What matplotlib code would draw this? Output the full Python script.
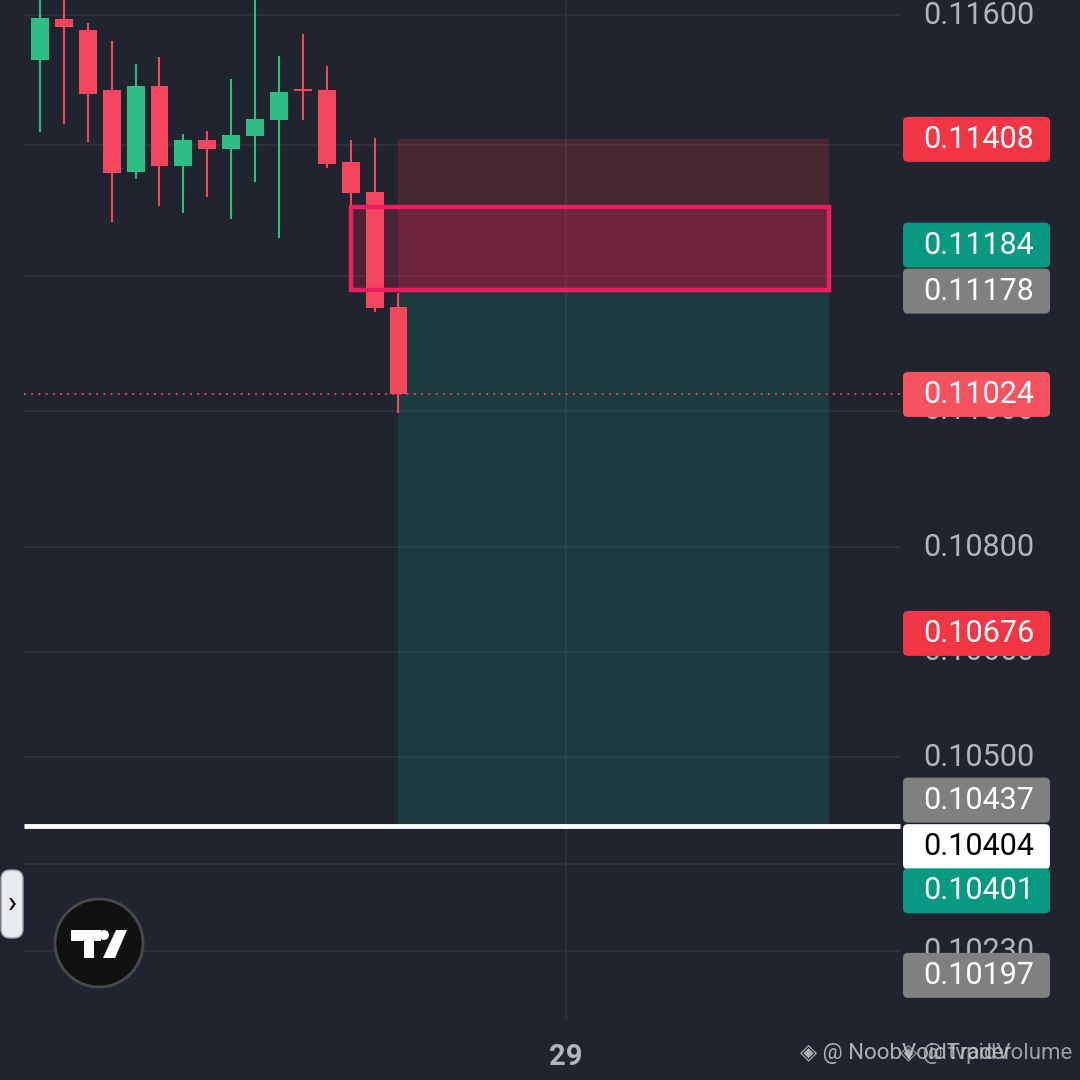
import numpy as np
import matplotlib.pyplot as plt
from matplotlib.patches import Rectangle, FancyBboxPatch, Circle, Polygon

plt.rcParams['font.family'] = ['Roboto', 'DejaVu Sans']

# ---- data (oldest candle first) ----
opens  = [0.11530, 0.11594, 0.11577, 0.11484, 0.11358, 0.11490, 0.11367, 0.11407,
          0.11393, 0.11413, 0.11437, 0.11485, 0.11484, 0.11373, 0.11328, 0.11154]
closes = [0.11595, 0.11581, 0.11478, 0.11357, 0.11490, 0.11367, 0.11407, 0.11393,
          0.11415, 0.11439, 0.11481, 0.11482, 0.11370, 0.11326, 0.11153, 0.11024]
highs  = [0.11660, 0.11660, 0.11588, 0.11560, 0.11524, 0.11535, 0.11416, 0.11421,
          0.11501, 0.11660, 0.11536, 0.11570, 0.11521, 0.11407, 0.11410, 0.11175]
lows   = [0.11419, 0.11432, 0.11404, 0.11282, 0.11347, 0.11306, 0.11296, 0.11320,
          0.11287, 0.11343, 0.11258, 0.11437, 0.11364, 0.11306, 0.11147, 0.10997]

# short position tool
entry = 0.11178
stop = 0.11408
target = 0.10401
pos_start, pos_end = 15, 33

# supply zone box
zone_top, zone_bot = 0.11305, 0.11180
zone_start, zone_end = 13, 33

last_price = 0.11024
hline_price = 0.10404

grid_prices = [0.11600, 0.11400, 0.11200, 0.11000, 0.10800, 0.10650, 0.10500, 0.10350, 0.10230]
# only the scale labels that are not hidden behind a price tag
scale_prices = [0.11600, 0.11000, 0.10800, 0.10650, 0.10500, 0.10230]
scale_labels = ['0.11600', '0.11000', '0.10800', '0.10650', '0.10500', '0.10230']

tag_prices = [0.11408, 0.11184, 0.11178, 0.11024, 0.10676, 0.10437, 0.10404, 0.10401, 0.10197]
tag_labels = ['0.11408', '0.11184', '0.11178', '0.11024', '0.10676', '0.10437', '0.10404', '0.10401', '0.10197']
tag_colors = ['#f23645', '#089981', '#808080', '#f7525f', '#f23645', '#808080', '#ffffff', '#089981', '#808080']
tag_text   = ['white', 'white', 'white', 'white', 'white', 'white', 'black', 'white', 'white']
tag_shift  = [0, -42, 0, 0, 0, -2, 21, 63, 0]   # px, tags pushed apart like TradingView does

time_tick = 22
time_label = '29'

BG = '#20242e'
GRID = '#2b2f3a'
UP = '#2ebd85'
DOWN = '#f6465d'

fig = plt.figure(figsize=(10.8, 10.8), dpi=100, facecolor=BG)
ax = fig.add_axes([0, 0, 1, 1])
ax.set_facecolor(BG)
ax.set_yscale('log')
step = 23.9
ax.set_xlim(-40 / step, 1040 / step)
ax.set_ylim(0.116 * np.exp(-(1080 - 15) / 7450), 0.116 * np.exp(15 / 7450))
ax.axis('off')

x_left, x_right = -16 / step, 860 / step

# grid
ax.hlines(grid_prices, x_left, x_right, color=GRID, lw=1.5, zorder=1)
ax.axvline(time_tick, ymin=62 / 1080, ymax=1, color=GRID, lw=1.5, zorder=1)

# position tool
ax.add_patch(Rectangle((pos_start, entry), pos_end - pos_start, stop - entry,
                       facecolor=(242/255, 54/255, 69/255, 0.2), edgecolor='none', zorder=2))
ax.add_patch(Rectangle((pos_start, target), pos_end - pos_start, entry - target,
                       facecolor=(8/255, 153/255, 129/255, 0.2), edgecolor='none', zorder=2))
ax.hlines(entry, pos_start, pos_end, color='#7a7a7a', lw=1.5, zorder=2)

# zone box
ax.add_patch(Rectangle((zone_start, zone_bot), zone_end - zone_start, zone_top - zone_bot,
                       facecolor=(233/255, 30/255, 99/255, 0.22), edgecolor='none', zorder=3))
ax.add_patch(Rectangle((zone_start, zone_bot), zone_end - zone_start, zone_top - zone_bot,
                       facecolor='none', edgecolor='#e91e63', lw=3.2, zorder=5))

# candles
xs = np.arange(len(opens))
cols = [UP if c >= o else DOWN for o, c in zip(opens, closes)]
ax.vlines(xs, lows, highs, colors=cols, lw=1.5, zorder=4)
bottoms = np.minimum(opens, closes)
heights = np.maximum(np.abs(np.array(closes) - np.array(opens)), 0.00002)
ax.bar(xs, heights, bottom=bottoms, width=0.75, color=cols, zorder=4)

# last price line and horizontal ray
ax.hlines(last_price, x_left, x_right, color=DOWN, lw=1.3, linestyles=(0, (1, 3)), zorder=6)
ax.hlines(hline_price, x_left, x_right, color='white', lw=3.5, zorder=6)

# time axis
ax.text(time_tick, 0.116 * np.exp(-(1057 - 15) / 7450), time_label, ha='center', va='center',
        fontsize=21, fontweight='bold', color='#b2b5be')

# ---- overlay in pixel space for axis tags and UI bits ----
fig.canvas.draw()
ui = fig.add_axes([0, 0, 1, 1], zorder=10)
ui.set_xlim(0, 1080)
ui.set_ylim(1080, 0)
ui.axis('off')
ui.patch.set_alpha(0)


def to_px(price):
    return 1080 - ax.transData.transform((0, price))[1]


for p, lab in zip(scale_prices, scale_labels):
    ui.text(979, to_px(p), lab, ha='center', va='center', fontsize=22, color='#b2b5be', zorder=1)

for p, lab, c, tc, sh in zip(tag_prices, tag_labels, tag_colors, tag_text, tag_shift):
    yc = to_px(p) + sh
    ui.add_patch(FancyBboxPatch((903, yc - 22.5), 147, 45, boxstyle='round,pad=0,rounding_size=5',
                                facecolor=c, edgecolor='none', zorder=2))
    ui.text(979, yc, lab, ha='center', va='center', fontsize=22, color=tc, zorder=3)

# left drawer handle
ui.add_patch(FancyBboxPatch((1, 870), 22, 68, boxstyle='round,pad=0,rounding_size=9',
                            facecolor='#e8eaee', edgecolor='#9a9ea8', lw=1, zorder=2))
ui.text(12, 903, '›', ha='center', va='center', fontsize=22, color='black', zorder=3)

# tradingview badge
ui.add_patch(Circle((99, 943), 44, facecolor='#111111', edgecolor='#4a4a4a', lw=2, zorder=2))
ui.add_patch(Polygon([(71, 930), (101, 930), (101, 941), (94, 941), (94, 958), (84, 958),
                      (84, 941), (71, 941)], closed=True, facecolor='white', edgecolor='none', zorder=3))
ui.add_patch(Circle((104, 935), 5, facecolor='white', edgecolor='none', zorder=3))
ui.add_patch(Polygon([(116, 930), (127, 930), (115, 958), (103, 958)], closed=True,
                     facecolor='white', edgecolor='none', zorder=3))

# watermark (two overlapping ones)
ui.text(800, 1054, '◈ @ NoobVoidTrader', ha='left', va='center', fontsize=16, color='#c8c8c8',
        alpha=0.85, zorder=3)
ui.text(1072, 1054, '◈ @ tvpidVolume', ha='right', va='center', fontsize=16, color='#c8c8c8',
        alpha=0.75, zorder=3)

fig.savefig('out.png', dpi=100, facecolor=BG)
